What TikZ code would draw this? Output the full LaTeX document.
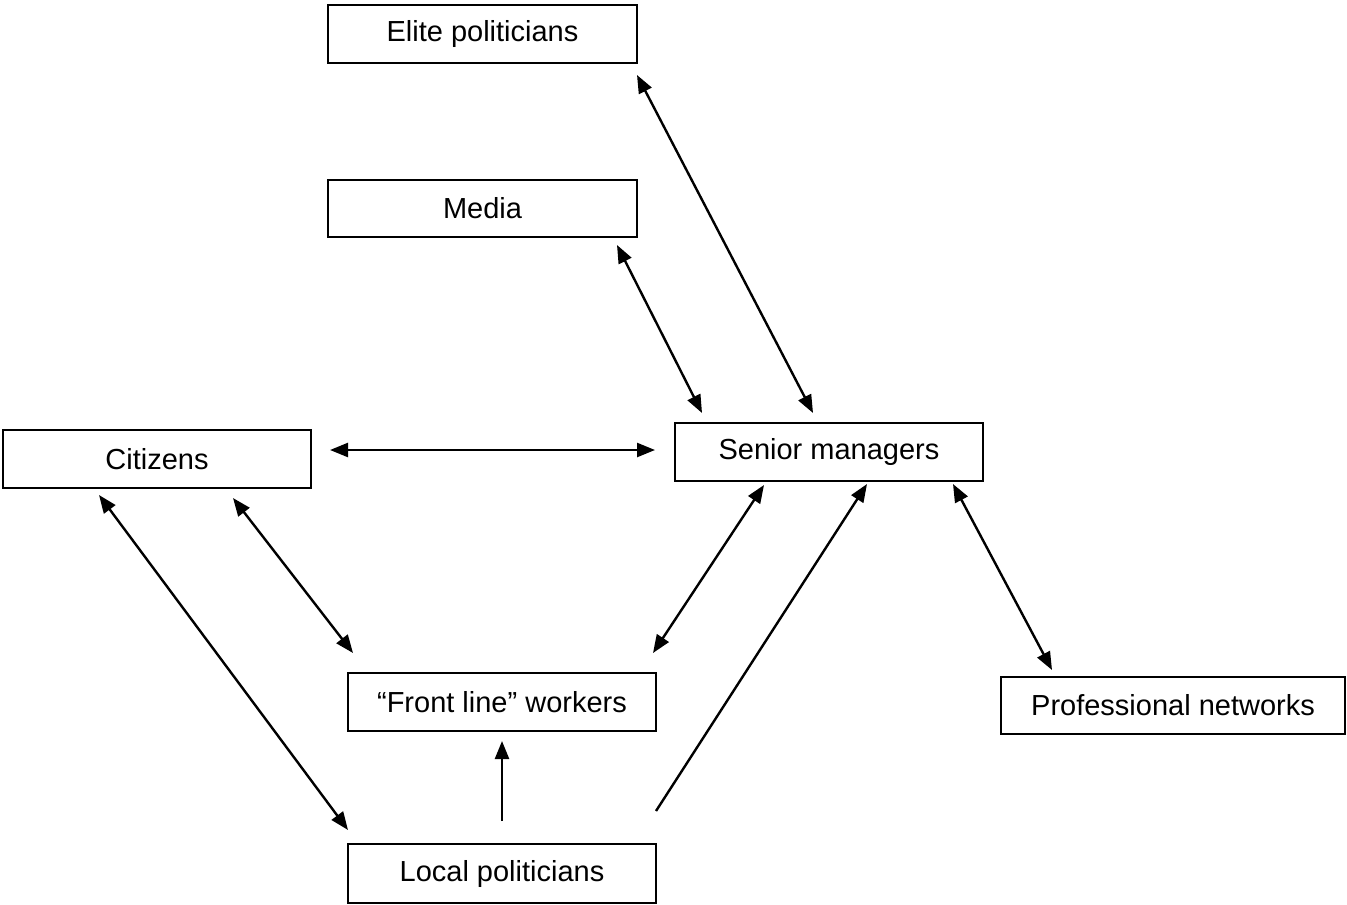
\documentclass[tikz,border=0pt]{standalone}
\usepackage{fontspec}
\setmainfont{Liberation Sans}
\usetikzlibrary{arrows.meta}
\begin{document}
\begin{tikzpicture}[x=0.5pt,y=-0.5pt,
  box/.style={draw, line width=1.1pt, rectangle, inner sep=0pt, font=\fontsize{14.5pt}{17pt}\selectfont},
  conn/.style={line width=1.2pt},
  twoway/.style={conn, {Triangle[length=9pt,width=7pt]}-{Triangle[length=9pt,width=7pt]}},
  oneway/.style={conn, -{Triangle[length=9pt,width=7pt]}}]
\useasboundingbox[fill=white] (0,0) rectangle (1347,904);
% boxes
\node[box, minimum width=154.5pt, minimum height=29pt] (elite) at (482.5,34) {Elite politicians};
\node[box, minimum width=154.5pt, minimum height=28.5pt] (media) at (482.5,208.5) {Media};
\node[box, minimum width=154pt, minimum height=29pt] (cit) at (157,459) {Citizens};
\node[box, minimum width=154pt, minimum height=29pt] (sen) at (829,452) {Senior managers};
\node[box, minimum width=154pt, minimum height=29pt] (front) at (502,702) {“Front line” workers};
\node[box, minimum width=172pt, minimum height=28.5pt] (prof) at (1173,705.5) {Professional networks};
\node[box, minimum width=154pt, minimum height=29.5pt] (local) at (502,873.5) {Local politicians};
% connector end points
\coordinate (eliteS) at (637,75);   \coordinate (senE) at (813,413);
\coordinate (mediaS) at (617,245);  \coordinate (senM) at (702,413);
\coordinate (citE) at (330,450);    \coordinate (senC) at (655,450);
\coordinate (citF) at (233,498);    \coordinate (frontC) at (353,653);
\coordinate (citL) at (99,495);     \coordinate (localC) at (348,830);
\coordinate (senF) at (764,485);    \coordinate (frontS) at (653,653);
\coordinate (senL) at (867,484);    \coordinate (localS) at (656,811);
\coordinate (senP) at (953,484);    \coordinate (profS) at (1052,670);
\coordinate (frontL) at (502,741);  \coordinate (localF) at (502,821);
% connectors
\draw[twoway] (eliteS) -- (senE);
\draw[twoway] (mediaS) -- (senM);
\draw[twoway] (citE) -- (senC);
\draw[twoway] (citF) -- (frontC);
\draw[twoway] (citL) -- (localC);
\draw[twoway] (senF) -- (frontS);
\draw[oneway] (localS) -- (senL);
\draw[twoway] (senP) -- (profS);
\draw[oneway] (localF) -- (frontL);
\end{tikzpicture}
\end{document}
